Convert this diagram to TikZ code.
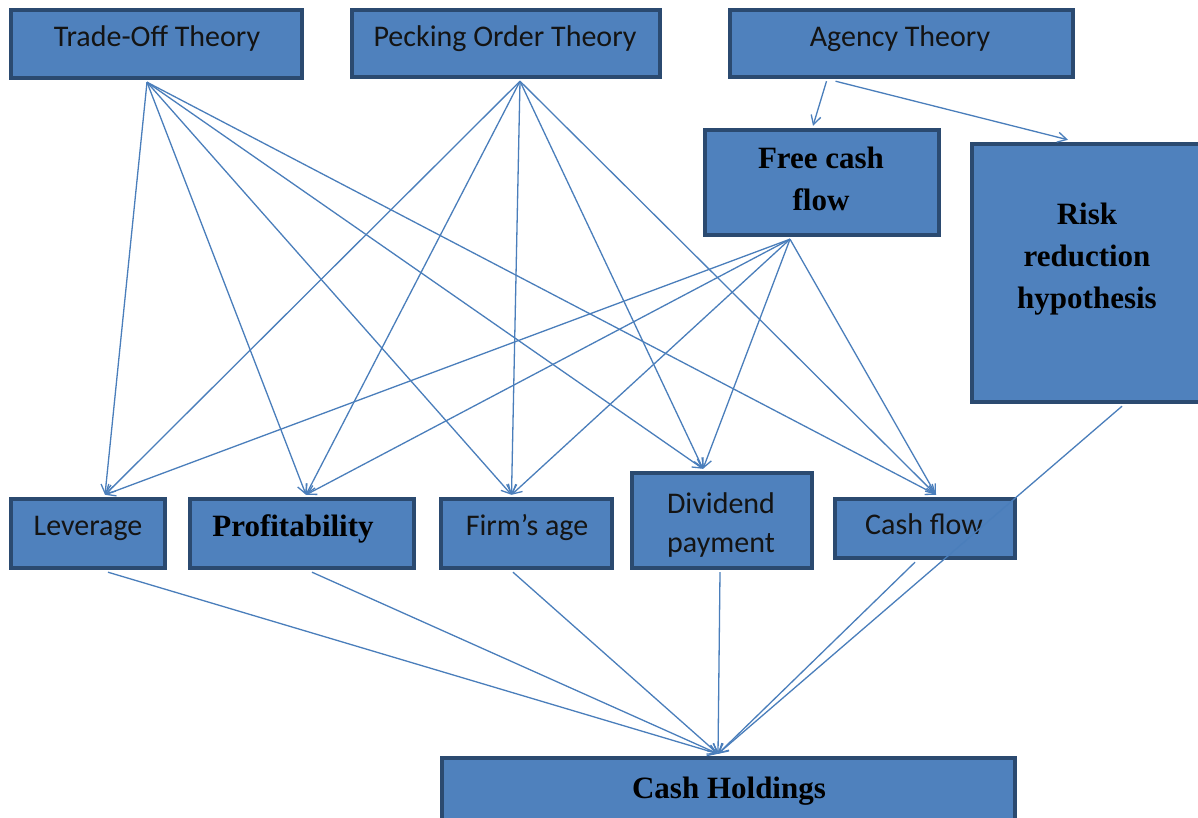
\documentclass[tikz,border=0pt]{standalone}
\usepackage{fontspec}
\setmainfont{Liberation Serif}
\newfontfamily\calfont{Carlito}
\usetikzlibrary{arrows.meta,fit,calc}
\definecolor{boxfill}{HTML}{4F81BD}
\definecolor{boxline}{HTML}{2B4A70}
\definecolor{arrcol}{HTML}{4A7EBB}
\begin{document}
\begin{tikzpicture}[x=0.5pt,y=-0.5pt,
 box/.style={draw=boxline, fill=boxfill, line width=2.2pt, inner sep=0pt},
 ctext/.style={font=\calfont\fontsize{15}{19.5}\selectfont, text=black!92, align=center, inner sep=0pt},
 btext/.style={font=\bfseries\fontsize{15.5}{21}\selectfont, text=black, align=center, inner sep=0pt},
 arr/.style={draw=arrcol, line width=0.65pt, -{Straight Barb[length=4.5pt,width=5pt]}}]
\useasboundingbox[fill=white] (0,0) rectangle (1198,818);
% boxes
\node[box, fit={(11,10)(302,78)}] (tot) {};
\node[box, fit={(352,10)(660,77)}] (pot) {};
\node[box, fit={(730,10)(1073,77)}] (agt) {};
\node[box, fit={(705,130)(939,235)}] (fcf) {};
\node[box, fit={(972,144)(1210,402)}] (risk) {};
\node[box, fit={(11,499)(165,568)}] (lev) {};
\node[box, fit={(190,499)(414,568)}] (prof) {};
\node[box, fit={(441,499)(612,568)}] (age) {};
\node[box, fit={(632,473)(812,568)}] (div) {};
\node[box, fit={(835,499)(1015,558)}] (cf) {};
\node[box, fit={(442,758)(1015,840)}] (ch) {};
% texts
\node[ctext, anchor=base] (tot-t) at (157,47) {Trade-Off Theory};
\node[ctext, anchor=base] (pot-t) at (505,47) {Pecking Order Theory};
\node[ctext, anchor=base] (agt-t) at (900,47) {Agency Theory};
\node[btext] (fcf-t) at (821,179) {Free cash\\flow};
\node[btext] (risk-t) at (1087,259) {Risk\\reduction\\hypothesis};
\node[ctext, anchor=base] (lev-t) at (88,535) {Leverage};
\node[btext, anchor=base] (prof-t) at (293,536) {Profitability};
\node[ctext, anchor=base] (age-t) at (527,535) {Firm’s age};
\node[ctext] (div-t) at (721,525) {Dividend\\payment};
\node[ctext, anchor=base] (cf-t) at (924,534) {Cash flow};
\node[btext, anchor=base] (ch-t) at (729,798) {Cash Holdings};
% connectors from theories / free cash flow to determinants
\foreach \s/\sx in {tot/-9.5, pot/14, fcf/-32}{
  \draw[arr] ($(\s.south)+(\sx,2)$) -- ($(lev.north)+(17,-2)$);
  \draw[arr] ($(\s.south)+(\sx,2)$) -- ($(prof.north)+(4,-2)$);
  \draw[arr] ($(\s.south)+(\sx,2)$) -- ($(age.north)+(-15,-2)$);
  \draw[arr] ($(\s.south)+(\sx,2)$) -- ($(div.north)+(-19,-2)$);
  \draw[arr] ($(\s.south)+(\sx,2)$) -- ($(cf.north)+(11,-2)$);
}
\draw[arr] ($(agt.south)+(-75,2)$) -- ($(fcf.north)+(-9,-2)$);
\draw[arr] ($(agt.south)+(-66,2)$) -- ($(risk.north)+(-23,-2)$);
% to cash holdings
\draw[arr] ($(lev.south)+(20,2)$) -- ($(ch.north)+(-10.5,-2)$);
\draw[arr] ($(prof.south)+(10,2)$) -- ($(ch.north)+(-10.5,-2)$);
\draw[arr] ($(age.south)+(-13.5,2)$) -- ($(ch.north)+(-10.5,-2)$);
\draw[arr] ($(div.south)+(-2,2)$) -- ($(ch.north)+(-10.5,-2)$);
\draw[arr] ($(cf.south)+(-10,2)$) -- ($(ch.north)+(-10.5,-2)$);
\draw[arr] ($(risk.south)+(31,2)$) -- ($(ch.north)+(-10.5,-2)$);
\end{tikzpicture}
\end{document}
